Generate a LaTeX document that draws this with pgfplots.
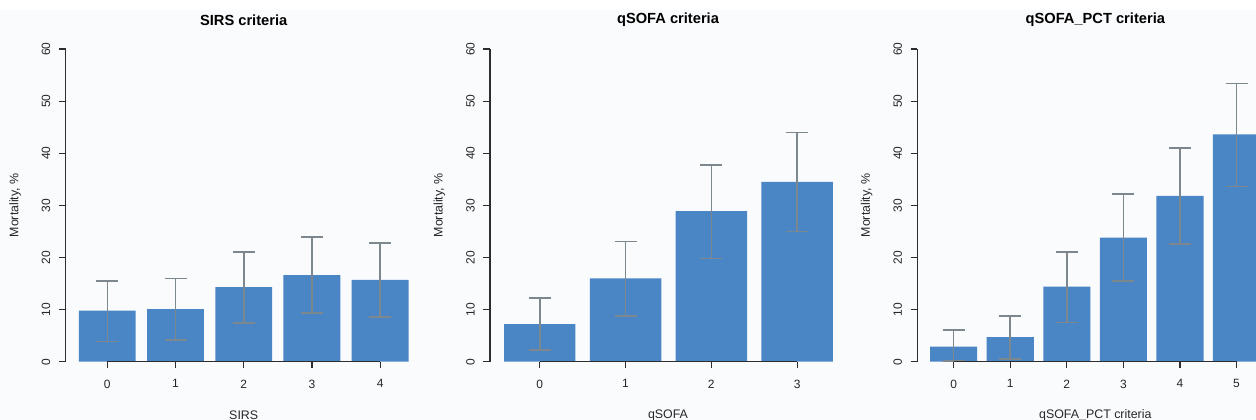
\documentclass[border=0pt]{standalone}
\usepackage{pgfplots}
\usepackage{pgfplotstable}
\pgfplotsset{compat=1.18}
\usepackage{fontspec}
\setmainfont{Liberation Sans}
\definecolor{barblue}{RGB}{74,134,198}
\definecolor{errgrey}{RGB}{125,135,142}
\definecolor{axgrey}{RGB}{45,45,45}
\definecolor{bgc}{RGB}{250,251,253}

\pgfplotstableread{
x y lo hi
0 9.8 3.9 15.5
1 10.1 4.2 16.0
2 14.3 7.4 21.1
3 16.6 9.3 23.9
4 15.7 8.6 22.8
}\sirs
\pgfplotstableread{
x y lo hi
0 7.2 2.2 12.2
1 16.0 8.8 23.1
2 28.9 19.8 37.7
3 34.5 25.0 44.0
}\qsofa
\pgfplotstableread{
x y lo hi
0 2.9 0.1 6.1
1 4.7 0.5 8.8
2 14.4 7.5 21.1
3 23.8 15.5 32.2
4 31.8 22.6 41.0
5 43.6 33.6 53.4
}\qpct

\pgfplotsset{
  mystyle/.style={
    scale only axis, width=267pt, height=234.5pt,
    ymin=0, ymax=60, ytick={0,10,...,60},
    axis lines=left, axis line style={-, axgrey, line width=0.9pt},
    x axis line style={draw=none},
    tick align=outside, major tick length=5pt,
    tick style={axgrey, line width=0.9pt},
    xtick=data,
    clip=false,
    ybar, bar width=0.833,
    /pgf/number format/assume math mode=true,
    ticklabel style={font=\fontsize{9}{10}\selectfont, text=black!85},
    xticklabel style={yshift=-5pt},
    yticklabel style={xshift=-3pt, rotate=90, anchor=south},
    title style={font=\bfseries\fontsize{11}{12}\selectfont, at={(axis description cs:0.5,1)}, anchor=center, yshift=15.75pt},
    every axis x label/.style={at={(axis description cs:0.5,0)}, anchor=center, yshift=-40pt, font=\fontsize{9.3}{10}\selectfont, text=black!85},
    every axis y label/.style={at={(axis description cs:0,0.5)}, anchor=center, xshift=-37.9pt, rotate=90, font=\fontsize{9.3}{10}\selectfont, text=black!85},
    ylabel={Mortality, \%},
  },
  mybars/.style={fill=barblue, draw=none,
    error bars/.cd, y dir=both, y explicit, error mark=|,
    error bar style={errgrey, line width=1.2pt},
    error mark options={errgrey, mark size=8.25pt, line width=1.2pt}},
}

\begin{document}
\begin{tikzpicture}
\useasboundingbox (0,0) rectangle (942pt,315pt);
\fill[bgc] (0,0) rectangle (942pt,307.5pt);

\begin{axis}[mystyle, at={(49.275pt,43.725pt)}, anchor=south west,
  xmin=-0.61, xmax=4.61, title={SIRS criteria}, xlabel={SIRS}]
\addplot[mybars] table[x=x, y=y, y error plus expr=\thisrow{hi}-\thisrow{y}, y error minus expr=\thisrow{y}-\thisrow{lo}] {\sirs};
\draw[axgrey, line width=0.9pt] (axis cs:0,0) -- (axis cs:4,0);
\end{axis}

\begin{axis}[mystyle, at={(367.5pt,43.725pt)}, anchor=south west,
  xmin=-0.58, xmax=3.57, title={qSOFA criteria}, xlabel={qSOFA}]
\addplot[mybars] table[x=x, y=y, y error plus expr=\thisrow{hi}-\thisrow{y}, y error minus expr=\thisrow{y}-\thisrow{lo}] {\qsofa};
\draw[axgrey, line width=0.9pt] (axis cs:0,0) -- (axis cs:3,0);
\end{axis}

\begin{axis}[mystyle, at={(687.975pt,43.725pt)}, anchor=south west,
  xmin=-0.643, xmax=5.65, title={qSOFA\_PCT criteria}, xlabel={qSOFA\_PCT criteria}]
\addplot[mybars] table[x=x, y=y, y error plus expr=\thisrow{hi}-\thisrow{y}, y error minus expr=\thisrow{y}-\thisrow{lo}] {\qpct};
\draw[axgrey, line width=0.9pt] (axis cs:0,0) -- (axis cs:5,0);
\end{axis}
\end{tikzpicture}
\end{document}
